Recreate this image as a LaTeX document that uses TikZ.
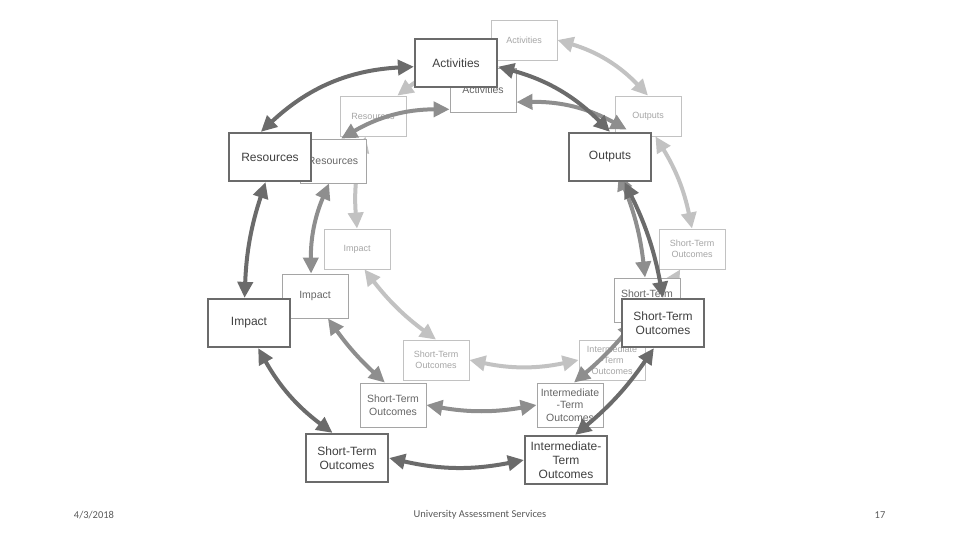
\documentclass[tikz,border=0pt]{standalone}
\usepackage{fontspec}
\setmainfont{Liberation Sans}
\newfontfamily\foot{Carlito}
\usetikzlibrary{arrows.meta}
\definecolor{dk}{HTML}{6B6B6B}
\definecolor{md}{HTML}{8E8E8E}
\definecolor{lt}{HTML}{C2C2C2}
\begin{document}
\begin{tikzpicture}[x=1pt,y=-1pt,
 bx/.style={draw=#1,fill=white,rectangle,align=center,inner sep=0pt},
 dbox/.style={bx=dk,line width=2.2pt,minimum width=82pt,minimum height=48pt,font=\fontsize{12}{14}\selectfont,text=black!75},
 mbox/.style={bx=md!80,line width=0.8pt,minimum width=66pt,minimum height=44pt,font=\fontsize{10.5}{12.5}\selectfont,text=black!60},
 lbox/.style={bx=lt,line width=0.8pt,minimum width=66pt,minimum height=40pt,font=\fontsize{9}{11}\selectfont,text=black!35},
 arr/.style={draw=#1,line width=4pt,{Triangle[length=16pt,width=15pt,fill=#1]}-{Triangle[length=16pt,width=15pt,fill=#1]}},
]
\useasboundingbox (0,0) rectangle (960,540);
% light ring
\node[lbox] (lAct) at (524,40) {Activities};
\node[lbox] (lOut) at (648,116) {Outputs};
\node[lbox] (lST) at (692,249) {Short-Term\\Outcomes};
\node[lbox] (lInt) at (612,360) {Intermediate\\-Term\\Outcomes};
\node[lbox] (lST2) at (436,360) {Short-Term\\Outcomes};
\node[lbox] (lImp) at (357,249) {Impact};
\node[lbox] (lRes) at (373,116) {Resources};
\draw[arr=lt] (lAct.east) to[bend left=15] (lOut.north);
\draw[arr=lt] (lOut.-70) to[bend left=10] (lST.north);
\draw[arr=lt] (lST.-120) to[bend left=8] (lInt.60);
\draw[arr=lt] (lInt.west) to[bend right=-12] (lST2.east);
\draw[arr=lt] (lST2.north) to[bend left=8] (lImp.-70);
\draw[arr=lt] (lImp.north) to[bend left=10] (lRes.-110);
\draw[arr=lt] (lRes.40) to[bend left=12] (lAct.-160);
% medium ring
\node[mbox] (mAct) at (483,90) {Activities};
\node[mbox,draw=none,fill=none] (mOut) at (600,152) {};
\node[mbox] (mRes) at (333,161) {Resources};
\node[mbox] (mImp) at (315,296) {Impact};
\node[mbox] (mST) at (393,405) {Short-Term\\Outcomes};
\node[mbox] (mInt) at (570,405) {Intermediate\\-Term\\Outcomes};
\node[mbox] (mST2) at (647,300) {Short-Term\\Outcomes};
\draw[arr=md] (mRes.70) to[bend left=15] (mAct.-150);
\draw[arr=md] (mAct.-20) to[bend left=15] (mOut.40);
\draw[arr=md] (mOut.-50) to[bend left=8] (mST2.95);
\draw[arr=md] (mST2.-120) to[bend left=5] (mInt.80);
\draw[arr=md] (mInt.west) to[bend right=-10] (mST.east);
\draw[arr=md] (mST.110) to[bend left=6] (mImp.-60);
\draw[arr=md] (mImp.100) to[bend left=12] (mRes.-100);
% dark ring
\node[dbox] (dAct) at (456,63) {Activities};
\node[dbox] (dOut) at (610,157) {Outputs};
\node[dbox] (dST) at (663,323) {Short-Term\\Outcomes};
\node[dbox] (dInt) at (566,460) {Intermediate-\\Term\\Outcomes};
\node[dbox] (dST2) at (347,458) {Short-Term\\Outcomes};
\node[dbox] (dImp) at (249,323) {Impact};
\node[dbox] (dRes) at (270,157) {Resources};
\draw[arr=dk] (dRes.110) to[bend left=20] (dAct.-175);
\draw[arr=dk] (dAct.-5) to[bend left=15] (dOut.north);
\draw[arr=dk] (dOut.-60) to[bend left=8] (dST.north);
\draw[arr=dk] (dST.-110) to[bend left=8] (dInt.70);
\draw[arr=dk] (dInt.west) to[bend right=-12] (dST2.east);
\draw[arr=dk] (dST2.120) to[bend left=12] (dImp.-70);
\draw[arr=dk] (dImp.100) to[bend left=8] (dRes.-100);
% footer
\begin{scope}[font=\foot\fontsize{10.5}{12}\selectfont,text=black!65]
\node (f1) at (94,515) {4/3/2018};
\node (f2) at (480,515) {University Assessment Services};
\node (f3) at (880,515) {17};
\end{scope}
\end{tikzpicture}
\end{document}
